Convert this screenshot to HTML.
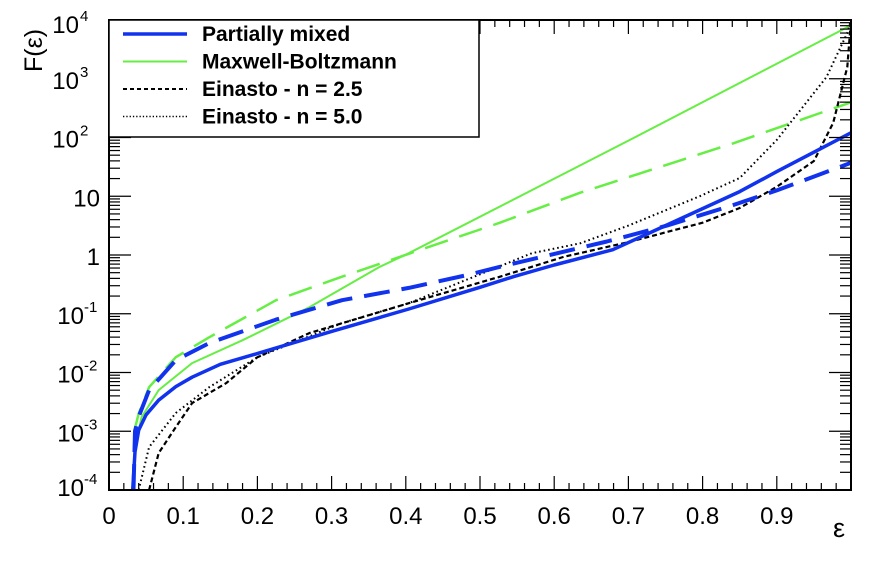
<!DOCTYPE html>
<html><head><meta charset="utf-8"><style>
body{margin:0;background:#fff}
svg text{font-family:"Liberation Sans",Arial,sans-serif}
</style></head><body>
<svg id="chart" width="876" height="562" viewBox="0 0 876 562">
<rect width="876" height="562" fill="#fff"/>
<g id="plot"></g>
</svg>
<script>
// data (log10 F values at given epsilon)
const pmX=[0.032,0.035,0.04,0.05,0.067,0.09,0.112,0.15,0.202,0.3,0.404,0.5,0.545,0.6,0.679,0.75,0.85,0.9,0.95,1.0];
const pmY=[-4,-3.35,-2.98,-2.72,-2.47,-2.24,-2.08,-1.86,-1.67,-1.3,-0.92,-0.55,-0.37,-0.17,0.09,0.5,1.08,1.42,1.75,2.08];
const pmdX=[0.033,0.035,0.04,0.054,0.09,0.135,0.225,0.314,0.404,0.483,0.527,0.671,0.752,0.841,0.9,1.0];
const pmdY=[-4,-3.0,-2.75,-2.3,-1.79,-1.5,-1.1,-0.77,-0.56,-0.34,-0.2,0.23,0.5,0.85,1.1,1.57];
const mbX=[0.033,0.036,0.044,0.067,0.112,0.18,0.27,0.365,0.404,0.702,1.0];
const mbY=[-4,-3.2,-2.76,-2.3,-1.84,-1.45,-0.89,-0.2,0.03,1.96,3.91];
const mbdX=[0.034,0.04,0.054,0.09,0.135,0.225,0.314,0.404,0.527,0.635,0.841,1.0];
const mbdY=[-3.0,-2.7,-2.25,-1.74,-1.4,-0.77,-0.37,0.02,0.55,1.06,1.9,2.6];
const e25X=[0.054,0.067,0.09,0.112,0.158,0.2,0.27,0.404,0.527,0.613,0.7,0.8,0.85,0.9,0.95,0.976,0.995,1.0];
const e25Y=[-4,-3.37,-2.93,-2.52,-2.18,-1.74,-1.33,-0.82,-0.37,-0.03,0.22,0.55,0.8,1.16,1.6,2.25,3.2,4];
const e50X=[0.04,0.054,0.09,0.135,0.2,0.314,0.404,0.57,0.635,0.7,0.796,0.85,0.9,0.967,0.995,1.0];
const e50Y=[-4,-3.27,-2.69,-2.25,-1.74,-1.16,-0.82,0.03,0.2,0.5,1.0,1.31,1.96,3.03,3.78,4];
const xTicks=[0,0.1,0.2,0.3,0.4,0.5,0.6,0.7,0.8,0.9];
const xTickLabels=["0","0.1","0.2","0.3","0.4","0.5","0.6","0.7","0.8","0.9"];
const yDecades=[-4,-3,-2,-1,0,1,2,3,4];
const yBase=["10","10","10","10","1","10","10","10","10"];
const ySup=["-4","-3","-2","-1","","","2","3","4"];

const L=109,R=851,T=20,B=490;
const sx=v=>L+(R-L)*v;
const sy=v=>B-(B-T)*(v+4)/8;
const NS="http://www.w3.org/2000/svg";
const g=document.getElementById('plot');
function el(tag,attrs,parent){const e=document.createElementNS(NS,tag);for(const k in attrs)e.setAttribute(k,attrs[k]);(parent||g).appendChild(e);return e;}

const clip=el('clipPath',{id:'c'});el('rect',{x:L,y:T,width:R-L,height:B-T},clip);
const sg=el('g',{'clip-path':'url(#c)'});
[[mbX,mbY,'#66ee44',2,'', 'mb-solid-line'],
 [mbdX,mbdY,'#66ee44',2.5,'24 12','mb-dashed-line'],
 [e50X,e50Y,'#000',2,'1.6 3','einasto-5-line'],
 [e25X,e25Y,'#000',2.2,'5 3','einasto-25-line'],
 [pmdX,pmdY,'#1133ee',4,'26 12','pm-dashed-line'],
 [pmX,pmY,'#1133ee',3.5,'','pm-solid-line']].forEach(s=>{
  let d=s[0].map((x,i)=>(i?'L':'M')+sx(x).toFixed(1)+','+sy(s[1][i]).toFixed(1)).join('');
  const p=el('path',{d:d,fill:'none',stroke:s[2],'stroke-width':s[3],'stroke-dasharray':s[4]||'none','stroke-linejoin':'round'},sg);
  
  
});

// frame
const fr=el('rect',{x:L,y:T,width:R-L,height:B-T,fill:'none',stroke:'#000','stroke-width':2});



// x ticks
for(let i=0;i<=50;i++){const v=i*0.02;const x=sx(v);const len=(i%5===0)?14:7;
  el('line',{x1:x,y1:B,x2:x,y2:B-len,stroke:'#000','stroke-width':1.2});
  el('line',{x1:x,y1:T,x2:x,y2:T+len,stroke:'#000','stroke-width':1.2});}
xTicks.forEach((v,i)=>{const t=el('text',{x:sx(v),y:524,'font-size':24,'text-anchor':'middle'});t.textContent=xTickLabels[i];
  
  });
// y ticks
for(let d=-4;d<4;d++){for(let m=1;m<10;m++){const v=d+Math.log10(m);const y=sy(v);const len=m===1?22:11;
  el('line',{x1:L,y1:y,x2:L+len,y2:y,stroke:'#000','stroke-width':1.2});
  el('line',{x1:R,y1:y,x2:R-len,y2:y,stroke:'#000','stroke-width':1.2});}}
yDecades.forEach((v,i)=>{let y=sy(v)+10; if(v===4) y=33; if(v===-4) y=496;
  const neg=ySup[i].length>1;
  const t=el('text',{x:ySup[i]?(neg?84:79):100,y:y,'font-size':24,'text-anchor':'end'});t.textContent=yBase[i];
  
  
  if(ySup[i]){const s=el('text',{x:neg?84:80,y:y-12,'font-size':15});s.textContent=ySup[i];}
});
// axis titles
const yt=el('text',{x:0,y:0,'font-size':25,transform:'translate(42,72) rotate(-90)'});yt.textContent='F(ε)';


const xt=el('text',{x:833,y:537,'font-size':27});xt.textContent='ε';



// legend
const lg=el('g',{});


el('rect',{x:109,y:20,width:370,height:117,fill:'#fff',stroke:'#000','stroke-width':1.5},lg);
[['Partially mixed','#1133ee',3.5,''],['Maxwell-Boltzmann','#66ee44',2,''],['Einasto - n = 2.5','#000',2,'4 3'],['Einasto - n = 5.0','#000',1.5,'1.3 2']].forEach((e,i)=>{
  const y=34+i*27.5;
  el('line',{x1:123,y1:y,x2:187,y2:y,stroke:e[1],'stroke-width':e[2],'stroke-dasharray':e[3]||'none'},lg);
  const t=el('text',{x:202,y:y+7,'font-size':21,'font-weight':'bold'},lg);t.textContent=e[0];
  
  
});
</script>
</body></html>
